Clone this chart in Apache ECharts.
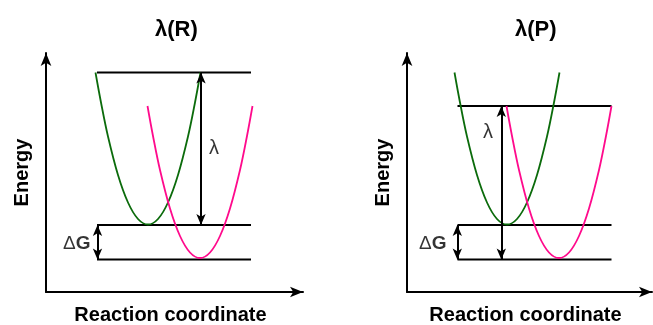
<!DOCTYPE html>
<html>
<head>
<meta charset="utf-8">
<title>λ(R) / λ(P)</title>
<script src="https://cdn.jsdelivr.net/npm/echarts@6/dist/echarts.min.js"></script>
<style>
  html, body { margin: 0; padding: 0; background: #fff; }
  #chart { width: 653px; height: 325px; }
</style>
</head>
<body>
<div id="chart"></div>
<script>
// reaction coordinate / energy in arbitrary units
const greenR_x = [4.95, 5.5, 6.2, 7.2, 8.2, 9.2, 10.2, 11.2, 12.2, 13.2, 14.2, 14.9, 15.45];
const greenR_y = [21.95, 18.95, 15.55, 11.7, 8.95, 7.3, 6.75, 7.3, 8.95, 11.7, 15.55, 18.95, 21.95];
const pinkR_x = [10.15, 10.7, 11.4, 12.4, 13.4, 14.4, 15.4, 16.4, 17.4, 18.4, 19.4, 20.1, 20.65];
const pinkR_y = [18.6, 15.6, 12.2, 8.35, 5.6, 3.95, 3.4, 3.95, 5.6, 8.35, 12.2, 15.6, 18.6];

const greenP_x = [4.75, 5.3, 6.0, 7.0, 8.0, 9.0, 10.0, 11.0, 12.0, 13.0, 14.0, 14.7, 15.25];
const greenP_y = [21.95, 18.95, 15.55, 11.7, 8.95, 7.3, 6.75, 7.3, 8.95, 11.7, 15.55, 18.95, 21.95];
const pinkP_x = [9.95, 10.5, 11.2, 12.2, 13.2, 14.2, 15.2, 16.2, 17.2, 18.2, 19.2, 19.9, 20.45];
const pinkP_y = [18.6, 15.6, 12.2, 8.35, 5.6, 3.95, 3.4, 3.95, 5.6, 8.35, 12.2, 15.6, 18.6];

// horizontal energy levels: y values and x extent
const levelsR_y = [21.95, 6.7, 3.25];
const levelsR_x = [5.1, 20.5];
const levelsP_y = [18.6, 6.7, 3.25];
const levelsP_x = [5.05, 20.45];

// double arrows: [x, yTop, yBottom]
const lambdaArrowR = [15.5, 21.95, 6.7];
const dGArrowR = [5.15, 6.7, 3.25];
const lambdaArrowP = [9.43, 18.6, 3.25];
const dGArrowP = [5.03, 6.7, 3.25];

// labels: [x, y]
const lambdaLabelR = [16.8, 14.4];
const dGLabelR = [3.07, 4.8];
const lambdaLabelP = [8.1, 16.0];
const dGLabelP = [2.57, 4.8];

const titles = ['R', 'P'];

const FONT = 'Liberation Sans, Arial, Helvetica, sans-serif';
const GREEN = '#0b6b0b';
const PINK = '#ff0a8c';

const zip = (xs, ys) => xs.map((x, i) => [x, ys[i]]);

const chart = echarts.init(document.getElementById('chart'));

const makeAxes = (gi, xMax) => {
  const line = { show: true, symbol: ['none', 'arrow'], symbolSize: [8, 13], lineStyle: { color: '#000', width: 2 } };
  const nameStyle = { fontFamily: FONT, fontWeight: 'bold', fontSize: 20, color: '#000' };
  return {
    x: {
      gridIndex: gi, type: 'value', min: 0, max: xMax,
      axisLine: line, axisTick: { show: false }, axisLabel: { show: false }, splitLine: { show: false },
      name: 'Reaction coordinate', nameLocation: 'middle', nameGap: 13,
      nameTextStyle: Object.assign({ padding: [0, 8, 0, 0] }, nameStyle)
    },
    y: {
      gridIndex: gi, type: 'value', min: 0, max: 23.9,
      axisLine: line, axisTick: { show: false }, axisLabel: { show: false }, splitLine: { show: false },
      name: 'Energy', nameLocation: 'middle', nameGap: 14, nameRotate: 90, nameTextStyle: nameStyle
    }
  };
};

const a0 = makeAxes(0, 25.7);
const a1 = makeAxes(1, 24.5);

const curve = (gi, data, color) => ({
  type: 'line', xAxisIndex: gi, yAxisIndex: gi, data: data, smooth: 0.35,
  symbol: 'none', lineStyle: { color: color, width: 1.8 }, silent: true, z: 3
});

const level = (gi, xs, y) => ({
  type: 'line', xAxisIndex: gi, yAxisIndex: gi, data: [[xs[0], y], [xs[1], y]],
  symbol: 'none', lineStyle: { color: '#000', width: 2 }, silent: true, z: 2
});

const arrow = (gi, a) => ({
  type: 'line', xAxisIndex: gi, yAxisIndex: gi, data: [], silent: true, z: 4,
  markLine: {
    silent: true, animation: false,
    symbol: ['arrow', 'arrow'], symbolSize: [7, 11],
    lineStyle: { color: '#000', width: 2, type: 'solid' },
    label: { show: false },
    data: [[{ coord: [a[0], a[1]] }, { coord: [a[0], a[2]] }]]
  }
});

const labels = (gi, lam, dg) => ({
  type: 'scatter', xAxisIndex: gi, yAxisIndex: gi, symbolSize: 0, silent: true,
  label: {
    show: true, position: 'inside', formatter: p => p.name, color: '#000',
    fontFamily: FONT, fontSize: 20,
    rich: {
      d: { fontFamily: FONT, fontSize: 19, color: '#000' },
      g: { fontFamily: FONT, fontSize: 19, fontWeight: 'bold', color: '#000' }
    }
  },
  data: [
    { name: 'λ', value: lam },
    { name: '{d|Δ}{g|G}', value: dg }
  ]
});

const option = {
  animation: false,
  backgroundColor: '#fff',
  title: titles.map((t, i) => ({
    text: '{l|λ}{b|(' + t + ')}',
    left: i === 0 ? 150 : 510, top: 14,
    textStyle: {
      rich: {
        l: { fontFamily: FONT, fontSize: 22, color: '#000' },
        b: { fontFamily: FONT, fontSize: 22, fontWeight: 'bold', color: '#000' }
      }
    }
  })),
  grid: [
    { left: 46, top: 53, width: 257, height: 239, outerBoundsMode: 'none' },
    { left: 407, top: 53, width: 245, height: 239, outerBoundsMode: 'none' }
  ],
  xAxis: [a0.x, a1.x],
  yAxis: [a0.y, a1.y],
  series: [
    level(0, levelsR_x, levelsR_y[0]),
    level(0, levelsR_x, levelsR_y[1]),
    level(0, levelsR_x, levelsR_y[2]),
    curve(0, zip(greenR_x, greenR_y), GREEN),
    curve(0, zip(pinkR_x, pinkR_y), PINK),
    arrow(0, lambdaArrowR),
    arrow(0, dGArrowR),
    labels(0, lambdaLabelR, dGLabelR),

    level(1, levelsP_x, levelsP_y[0]),
    level(1, levelsP_x, levelsP_y[1]),
    level(1, levelsP_x, levelsP_y[2]),
    curve(1, zip(greenP_x, greenP_y), GREEN),
    curve(1, zip(pinkP_x, pinkP_y), PINK),
    arrow(1, lambdaArrowP),
    arrow(1, dGArrowP),
    labels(1, lambdaLabelP, dGLabelP)
  ]
};

chart.setOption(option);
</script>
</body>
</html>
